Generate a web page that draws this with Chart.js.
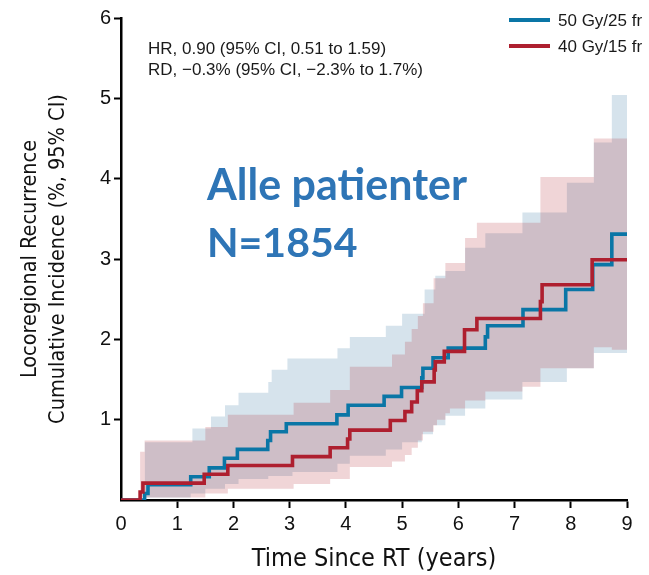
<!DOCTYPE html>
<html>
<head>
<meta charset="utf-8">
<script src="https://cdn.jsdelivr.net/npm/chart.js@4.4.1/dist/chart.umd.min.js"></script>
<style>
  html, body { margin: 0; padding: 0; background: #fff; }
  #wrap { width: 649px; height: 575px; position: relative; }
</style>
</head>
<body>
<div id="wrap"><canvas id="chart"></canvas></div>
<script>
/* ══════════════════════════════════════
   Locoregional recurrence — cumulative incidence
   ══════════════════════════════════════ */

// ── Data ──
const seriesLabels = ['50 Gy/25 fr', '40 Gy/15 fr'];
const xTickValues  = [0, 1, 2, 3, 4, 5, 6, 7, 8, 9];
const yTickValues  = [0, 1, 2, 3, 4, 5, 6];

// 50 Gy/25 fr — step curve (years, %)
const blueTimes  = [0, 0.42, 0.48, 1.24, 1.57, 1.84, 2.07, 2.61, 2.66, 2.94, 3.84, 4.04, 4.68, 4.99, 5.35, 5.37, 5.55, 5.82, 6.48, 6.52, 7.15, 7.91, 8.39, 8.73, 9.0];
const blueValues = [0, 0.08, 0.19, 0.29, 0.40, 0.52, 0.63, 0.74, 0.85, 0.95, 1.06, 1.18, 1.29, 1.40, 1.52, 1.64, 1.77, 1.89, 2.03, 2.17, 2.37, 2.62, 2.93, 3.31, 3.31];

// 50 Gy/25 fr — 95% CI
const blueCiTimes = [0.42, 1.24, 1.27, 1.5, 1.6, 1.85, 2.09, 2.62, 2.68, 2.96, 3.05, 3.85, 4.07, 4.71, 5.0, 5.35, 5.40, 5.55, 5.59, 5.77, 6.12, 6.48, 7.14, 7.93, 8.41, 8.73, 9.0];
const blueCiUpper = [0.72, 0.72, 0.89, 0.89, 1.04, 1.18, 1.335, 1.47, 1.62, 1.76, 1.76, 1.89, 2.03, 2.17, 2.32, 2.32, 2.62, 2.62, 2.79, 2.85, 3.14, 3.32, 3.58, 3.95, 4.45, 5.04, 5.04];
const blueCiLower = [0.03, 0.08, 0.08, 0.14, 0.14, 0.20, 0.26, 0.30, 0.30, 0.30, 0.35, 0.45, 0.55, 0.63, 0.72, 0.82, 0.82, 0.93, 0.93, 1.05, 1.14, 1.25, 1.47, 1.64, 1.83, 1.83, 1.83];

// 40 Gy/15 fr — step curve
const redTimes  = [0, 0.34, 0.39, 1.48, 1.90, 3.05, 3.72, 4.03, 4.07, 4.79, 5.05, 5.17, 5.27, 5.35, 5.57, 5.59, 5.75, 6.11, 6.33, 7.46, 7.49, 8.38, 9.0];
const redValues = [0, 0.10, 0.21, 0.32, 0.43, 0.54, 0.65, 0.76, 0.87, 0.99, 1.10, 1.22, 1.36, 1.47, 1.62, 1.72, 1.85, 2.12, 2.26, 2.47, 2.68, 2.99, 2.99];

// 40 Gy/15 fr — 95% CI
const redCiTimes = [0.34, 0.42, 1.5, 1.9, 3.07, 3.72, 4.07, 4.82, 5.05, 5.17, 5.28, 5.37, 5.56, 5.62, 5.77, 5.85, 6.12, 6.33, 6.48, 7.14, 7.46, 8.41, 8.73, 9.0];
const redCiUpper = [0.60, 0.74, 0.91, 1.06, 1.21, 1.37, 1.66, 1.81, 1.97, 2.13, 2.29, 2.45, 2.76, 2.76, 2.95, 2.95, 3.26, 3.45, 3.45, 3.45, 4.02, 4.50, 4.50, 4.50];
const redCiLower = [0.03, 0.03, 0.08, 0.14, 0.20, 0.26, 0.41, 0.48, 0.56, 0.65, 0.74, 0.85, 0.93, 1.00, 1.08, 1.14, 1.24, 1.24, 1.35, 1.41, 1.64, 1.90, 1.87, 1.87];

const statLines = ['HR, 0.90 (95% CI, 0.51 to 1.59)', 'RD, \u22120.3% (95% CI, \u22122.3% to 1.7%)'];
const bigLines  = ['Alle patienter', 'N=1854'];

// ── Cores ──
const BLUE      = '#0a76a6';
const RED       = '#ae1f2f';
const BLUE_BAND = 'rgb(214,227,236)';
const RED_BAND  = 'rgba(175,30,45,0.19)';
const SANS      = '"Liberation Sans", Arial, sans-serif';
const NARROW    = '"Liberation Sans Narrow", "DejaVu Sans Condensed", "Arial Narrow", sans-serif';

const pts = (xs, ys) => xs.map((x, i) => ({ x, y: ys[i] }));

const band = (data, color, fill, order) => ({
  data, fill, order,
  backgroundColor: color,
  borderWidth: 0,
  pointRadius: 0,
  stepped: true,
});

const curve = (data, color, order) => ({
  data, order,
  borderColor: color,
  borderWidth: 3.6,
  pointRadius: 0,
  fill: false,
  stepped: true,
});

// ── Legenda + textos ──
const overlay = {
  id: 'overlay',
  afterDraw(chart) {
    const ctx = chart.ctx;
    ctx.save();
    const colors = [BLUE, RED];
    seriesLabels.forEach((label, i) => {
      const y = 20 + i * 26;
      ctx.strokeStyle = colors[i];
      ctx.lineWidth = 4;
      ctx.beginPath();
      ctx.moveTo(509, y);
      ctx.lineTo(550, y);
      ctx.stroke();
      ctx.fillStyle = '#1a1a1a';
      ctx.font = '17px ' + SANS;
      ctx.textBaseline = 'middle';
      ctx.fillText(label, 558, y + 1);
    });

    ctx.fillStyle = '#1a1a1a';
    ctx.font = '17px ' + SANS;
    ctx.textBaseline = 'alphabetic';
    statLines.forEach((t, i) => ctx.fillText(t, 148, 54 + i * 21));

    ctx.fillStyle = '#2e75b6';
    ctx.font = 'bold 43px Lato, ' + SANS;
    ctx.fillText(bigLines[0], 207, 200);
    ctx.font = 'bold 41px Lato, ' + SANS;
    ctx.fillText(bigLines[1], 207, 257);
    ctx.restore();
  }
};

const hideZero = c => (c.tick && c.tick.value === 0) ? 'rgba(0,0,0,0)' : '#000';

new Chart(document.getElementById('chart'), {
  type: 'line',
  data: {
    datasets: [
      band(pts(blueCiTimes, blueCiUpper), BLUE_BAND, '+1', 3),
      band(pts(blueCiTimes, blueCiLower), BLUE_BAND, false, 3),
      band(pts(redCiTimes, redCiUpper), RED_BAND, '+1', 2),
      band(pts(redCiTimes, redCiLower), RED_BAND, false, 2),
      curve(pts(blueTimes, blueValues), BLUE, 1),
      curve(pts(redTimes, redValues), RED, 0),
    ],
  },
  options: {
    responsive: true,
    maintainAspectRatio: false,
    animation: false,
    events: [],
    layout: { padding: { top: 18, right: 22, left: 0, bottom: 0 } },
    plugins: { legend: { display: false }, tooltip: { enabled: false } },
    scales: {
      x: {
        type: 'linear',
        min: 0, max: 9,
        afterBuildTicks: s => { s.ticks = xTickValues.map(v => ({ value: v })); },
        afterFit: s => { s.height = 75; },
        border: { color: '#000', width: 2.5 },
        grid: { drawOnChartArea: false, drawTicks: true, tickLength: 8, tickWidth: 2, tickColor: hideZero },
        ticks: { color: '#111', font: { family: SANS, size: 20 }, padding: 4, maxRotation: 0 },
        title: {
          display: true,
          text: 'Time Since RT (years)',
          color: '#111',
          font: { family: NARROW, size: 25 },
          padding: { top: 0, bottom: 1 },
        },
      },
      y: {
        min: 0, max: 6,
        afterBuildTicks: s => { s.ticks = yTickValues.map(v => ({ value: v })); },
        afterFit: s => { s.width = 121; },
        border: { color: '#000', width: 2.5 },
        grid: { drawOnChartArea: false, drawTicks: true, tickLength: 7, tickWidth: 2, tickColor: hideZero },
        ticks: { color: '#111', font: { family: SANS, size: 20 }, padding: 3, callback: v => v === 0 ? '' : v },
        title: {
          display: true,
          text: ['Locoregional Recurrence', 'Cumulative Incidence (%, 95% CI)'],
          color: '#111',
          font: { family: NARROW, size: 21.5, lineHeight: 1.3 },
          padding: { top: 16, bottom: 0 },
        },
      },
    },
  },
  plugins: [overlay],
});
</script>
</body>
</html>
